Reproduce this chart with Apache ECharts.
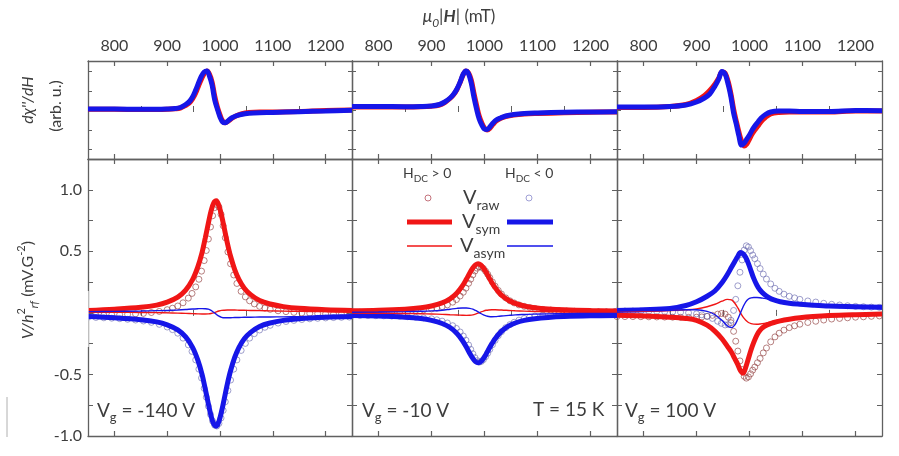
<!DOCTYPE html>
<html>
<head>
<meta charset="utf-8">
<script src="https://cdn.jsdelivr.net/npm/echarts@6/dist/echarts.min.js"></script>
<style>
  html, body { margin: 0; padding: 0; background: #fff; }
  #main { width: 899px; height: 456px; }
</style>
</head>
<body>
<div id="main"></div>
<script>
// axis ticks (mT) and labels
const majorTicks = [800, 900, 1000, 1100, 1200];
const minorTicks = [850, 950, 1050, 1150];
const yTicksTop = [-40.5, -21, -1.5, 18, 37.5];
const yLabelsBottom = [-1, -0.5, 0.5, 1];

// field grids (mT)
const fieldTop = [750, 800, 850, 880, 900, 915, 925, 935, 942, 948, 954, 960, 965, 970, 975, 980, 985, 990, 995, 1000, 1005, 1010, 1016, 1022, 1030, 1040, 1055, 1075, 1100, 1150, 1200, 1250];
const fieldLine = [750, 800, 850, 880, 900, 920, 935, 948, 958, 966, 972, 978, 983, 988, 993, 998, 1003, 1008, 1014, 1020, 1028, 1036, 1046, 1058, 1075, 1095, 1120, 1150, 1200, 1250];
const fieldRaw = [750, 765, 780, 795, 810, 825, 840, 855, 870, 885, 900, 910, 920, 930, 940, 947, 954, 960, 965, 970, 974, 978, 982, 986, 990, 994, 998, 1002, 1006, 1010, 1015, 1020, 1026, 1032, 1040, 1048, 1056, 1065, 1075, 1085, 1095, 1110, 1125, 1140, 1155, 1170, 1185, 1200, 1215, 1230, 1245];

// top row: dchi''/dH (arb. u.)  A: Vg=-140V, B: Vg=-10V, C: Vg=100V
const dchiRedA = [-0.3, -0.3, -0.5, -0.5, -0.3, 0.2, 1, 3.5, 6, 10, 16, 24, 30, 35.5, 38, 35, 27, 13, 2, -6, -12, -13.7, -12, -9.5, -7, -5, -3.5, -3, -3, -2.5, -1.5, -1];
const dchiBlueA = [0, 0, -0.3, -0.3, 0, 0.5, 1.5, 4.5, 7.5, 12, 19, 27, 33, 37, 38, 33, 24, 9, 0, -8, -13, -13.7, -11.5, -9, -7, -5.5, -4.3, -3.7, -3.5, -2.7, -2, -1.2];
const dchiRedB = [2, 2, 2, 2.2, 2.8, 4, 6.5, 10.5, 14.5, 19.5, 26.5, 34.5, 38, 36, 29, 16, 4, -7, -14, -19, -21, -19.5, -15.5, -12, -9.5, -7.5, -6, -5, -4.5, -3.8, -3.2, -3];
const dchiBlueB = [2.5, 2.5, 2.3, 2.5, 3, 4.5, 7, 11, 15, 20, 27, 35, 38, 35, 26, 12, 0, -10, -16, -20, -20.5, -18, -14, -11, -9, -7, -5.5, -4.5, -4, -3.3, -3, -2.7];
const dchiRedC = [1.5, 1.5, 2.5, 4.5, 8.5, 13.5, 18.5, 25, 31, 37, 36, 27, 15, 0, -12, -23, -32, -37, -35, -30, -25, -21, -17, -12.5, -8.5, -5, -3.5, -3, -3, -3, -2, -2];
const dchiBlueC = [2, 2, 2.5, 4, 7, 11, 15, 23, 30, 37.5, 35, 24, 12, -4, -15, -27, -36, -34, -30, -26, -21, -17, -13, -9, -5.5, -3, -2, -2, -2.5, -2.5, -1.5, -1.7];

// bottom row: V/h^2rf (mV.G^-2)
const symRedA = [0.02, 0.03, 0.045, 0.063, 0.087, 0.128, 0.185, 0.27, 0.374, 0.49, 0.606, 0.73, 0.826, 0.892, 0.91, 0.87, 0.79, 0.69, 0.566, 0.46, 0.35, 0.27, 0.2, 0.148, 0.1, 0.072, 0.051, 0.037, 0.026, 0.02];
const symBlueA = [-0.03, -0.04, -0.055, -0.073, -0.097, -0.138, -0.195, -0.28, -0.384, -0.5, -0.616, -0.74, -0.836, -0.902, -0.92, -0.88, -0.8, -0.7, -0.576, -0.47, -0.36, -0.28, -0.21, -0.158, -0.11, -0.082, -0.061, -0.047, -0.036, -0.03];
const asymRedA = [0.005, 0.005, 0.003, 0.002, 0, -0.002, -0.004, -0.006, -0.008, -0.009, -0.009, -0.008, -0.005, 0, 0.008, 0.015, 0.02, 0.022, 0.023, 0.023, 0.023, 0.022, 0.021, 0.02, 0.018, 0.016, 0.014, 0.012, 0.01, 0.009];
const asymBlueA = [0.01, 0.012, 0.015, 0.018, 0.02, 0.024, 0.028, 0.032, 0.034, 0.035, 0.034, 0.03, 0.02, 0.005, -0.012, -0.027, -0.036, -0.04, -0.04, -0.039, -0.038, -0.037, -0.036, -0.035, -0.034, -0.033, -0.032, -0.031, -0.03, -0.03];
const rawRedA = [-0.021, -0.02, -0.019, -0.017, -0.015, -0.012, -0.008, -0.004, 0.003, 0.012, 0.026, 0.038, 0.056, 0.082, 0.12, 0.158, 0.211, 0.273, 0.339, 0.425, 0.507, 0.6, 0.698, 0.789, 0.855, 0.88, 0.86, 0.8, 0.708, 0.61, 0.495, 0.399, 0.308, 0.239, 0.175, 0.13, 0.098, 0.073, 0.053, 0.039, 0.029, 0.017, 0.01, 0.004, 0, -0.003, -0.006, -0.008, -0.009, -0.011, -0.012];
const rawBlueA = [-0.035, -0.037, -0.04, -0.043, -0.047, -0.052, -0.058, -0.066, -0.077, -0.093, -0.115, -0.136, -0.165, -0.205, -0.26, -0.313, -0.382, -0.457, -0.529, -0.613, -0.685, -0.758, -0.825, -0.879, -0.912, -0.919, -0.898, -0.854, -0.792, -0.722, -0.631, -0.546, -0.457, -0.382, -0.305, -0.248, -0.205, -0.169, -0.139, -0.117, -0.101, -0.083, -0.07, -0.061, -0.054, -0.048, -0.044, -0.041, -0.038, -0.036, -0.034];

const symRedB = [0.017, 0.021, 0.03, 0.041, 0.056, 0.081, 0.114, 0.162, 0.217, 0.275, 0.322, 0.365, 0.39, 0.4, 0.39, 0.365, 0.33, 0.29, 0.245, 0.205, 0.162, 0.13, 0.101, 0.077, 0.056, 0.042, 0.032, 0.025, 0.019, 0.016];
const symBlueB = [-0.022, -0.026, -0.035, -0.046, -0.061, -0.086, -0.119, -0.167, -0.222, -0.28, -0.327, -0.37, -0.396, -0.405, -0.396, -0.37, -0.335, -0.295, -0.25, -0.21, -0.167, -0.135, -0.106, -0.082, -0.061, -0.047, -0.037, -0.03, -0.024, -0.021];
const asymRedB = [-0.002, -0.003, -0.005, -0.007, -0.009, -0.012, -0.015, -0.017, -0.019, -0.02, -0.019, -0.016, -0.01, -0.002, 0.007, 0.015, 0.021, 0.024, 0.025, 0.025, 0.024, 0.022, 0.02, 0.017, 0.014, 0.011, 0.009, 0.007, 0.005, 0.004];
const asymBlueB = [0.005, 0.007, 0.01, 0.013, 0.016, 0.022, 0.03, 0.037, 0.04, 0.04, 0.037, 0.03, 0.02, 0.008, -0.005, -0.016, -0.024, -0.029, -0.031, -0.03, -0.027, -0.024, -0.02, -0.016, -0.013, -0.01, -0.008, -0.006, -0.005, -0.004];
const rawRedB = [0.005, 0.006, 0.006, 0.008, 0.009, 0.01, 0.012, 0.015, 0.019, 0.024, 0.032, 0.04, 0.051, 0.065, 0.087, 0.108, 0.137, 0.168, 0.201, 0.24, 0.274, 0.309, 0.34, 0.363, 0.375, 0.372, 0.36, 0.339, 0.314, 0.286, 0.251, 0.217, 0.182, 0.153, 0.122, 0.098, 0.081, 0.065, 0.053, 0.044, 0.036, 0.028, 0.023, 0.019, 0.015, 0.013, 0.011, 0.01, 0.008, 0.007, 0.007];
const rawBlueB = [-0.02, -0.021, -0.022, -0.023, -0.024, -0.026, -0.028, -0.031, -0.035, -0.04, -0.048, -0.056, -0.067, -0.082, -0.104, -0.126, -0.155, -0.188, -0.222, -0.261, -0.296, -0.332, -0.364, -0.388, -0.4, -0.394, -0.379, -0.356, -0.328, -0.297, -0.259, -0.223, -0.185, -0.153, -0.12, -0.095, -0.076, -0.059, -0.045, -0.035, -0.026, -0.017, -0.01, -0.005, -0.001, 0.002, 0.004, 0.006, 0.007, 0.008, 0.009];

const symRedC = [-0.02, -0.025, -0.035, -0.045, -0.06, -0.1, -0.15, -0.21, -0.27, -0.32, -0.37, -0.42, -0.47, -0.49, -0.44, -0.37, -0.3, -0.24, -0.18, -0.14, -0.11, -0.093, -0.078, -0.065, -0.052, -0.04, -0.03, -0.022, -0.015, -0.01];
const symBlueC = [0.02, 0.025, 0.035, 0.06, 0.09, 0.135, 0.18, 0.245, 0.31, 0.37, 0.415, 0.46, 0.49, 0.48, 0.45, 0.4, 0.34, 0.28, 0.225, 0.185, 0.15, 0.125, 0.105, 0.09, 0.078, 0.07, 0.062, 0.055, 0.05, 0.045];
const asymRedC = [0.01, 0.012, 0.018, 0.025, 0.033, 0.05, 0.07, 0.095, 0.11, 0.105, 0.08, 0.04, 0, -0.035, -0.06, -0.078, -0.087, -0.091, -0.092, -0.09, -0.085, -0.078, -0.068, -0.058, -0.046, -0.035, -0.026, -0.018, -0.01, -0.005];
const asymBlueC = [0.015, 0.018, 0.022, 0.025, 0.025, 0.012, -0.015, -0.06, -0.105, -0.12, -0.1, -0.05, 0, 0.05, 0.09, 0.113, 0.122, 0.125, 0.125, 0.123, 0.118, 0.113, 0.105, 0.096, 0.085, 0.073, 0.062, 0.053, 0.042, 0.033];
const rawRedC = [-0.03, -0.03, -0.03, -0.031, -0.032, -0.033, -0.034, -0.035, -0.036, -0.036, -0.035, -0.033, -0.028, -0.02, -0.01, -0.005, -0.01, -0.035, -0.08, -0.15, -0.23, -0.31, -0.39, -0.46, -0.515, -0.53, -0.52, -0.495, -0.465, -0.44, -0.405, -0.37, -0.325, -0.285, -0.235, -0.195, -0.165, -0.14, -0.12, -0.105, -0.092, -0.078, -0.068, -0.058, -0.05, -0.045, -0.04, -0.035, -0.032, -0.028, -0.025];
const rawBlueC = [0.015, 0.015, 0.015, 0.014, 0.013, 0.012, 0.01, 0.008, 0.005, 0, -0.008, -0.016, -0.028, -0.045, -0.068, -0.085, -0.098, -0.095, -0.06, 0.02, 0.11, 0.22, 0.33, 0.43, 0.51, 0.545, 0.535, 0.505, 0.47, 0.44, 0.4, 0.36, 0.315, 0.275, 0.235, 0.2, 0.175, 0.152, 0.135, 0.122, 0.11, 0.097, 0.088, 0.078, 0.07, 0.064, 0.058, 0.053, 0.05, 0.047, 0.045];

const dchiRed = [dchiRedA, dchiRedB, dchiRedC];
const dchiBlue = [dchiBlueA, dchiBlueB, dchiBlueC];
const symRed = [symRedA, symRedB, symRedC];
const symBlue = [symBlueA, symBlueB, symBlueC];
const asymRed = [asymRedA, asymRedB, asymRedC];
const asymBlue = [asymBlueA, asymBlueB, asymBlueC];
const rawRed = [rawRedA, rawRedB, rawRedC];
const rawBlue = [rawBlueA, rawBlueB, rawBlueC];

const FONT = 'Lato, "Open Sans", sans-serif';
const TXT = '#3d3d3d';
const AX = '#606060';
const RED = '#f01616';
const BLUE = '#1616e8';
const RAW_RED = 'rgba(150,70,70,0.85)';
const RAW_BLUE = 'rgba(105,105,175,0.8)';

const grids = [
  {left: 88, top: 61, width: 264, height: 98},
  {left: 352, top: 61, width: 265, height: 98},
  {left: 617, top: 61, width: 265, height: 98},
  {left: 88, top: 159, width: 264, height: 277},
  {left: 352, top: 159, width: 265, height: 277},
  {left: 617, top: 159, width: 265, height: 277}
].map(g => Object.assign(g, {containLabel: false, outerBoundsMode: 'none'}));

let xAxis = [];
let yAxis = [];
grids.forEach((g, i) => {
  let topRow = i < 3;
  let xBase = {
    type: 'value', gridIndex: i, min: 750, max: 1250, interval: 50,
    splitLine: {show: false},
    axisLine: {show: true, onZero: false, lineStyle: {color: AX, width: 1.3}},
    axisLabel: {show: false}
  };
  let major = {inside: true, length: 5, customValues: majorTicks, lineStyle: {color: AX, width: 1.2}};
  let minor = {inside: true, length: 3, customValues: minorTicks, lineStyle: {color: AX, width: 1}};
  xAxis.push(Object.assign({}, xBase, {position: 'bottom', axisTick: major}));
  xAxis.push(Object.assign({}, xBase, {
    position: 'top', axisTick: major,
    axisLabel: topRow
      ? {show: true, customValues: majorTicks, formatter: v => String(v), color: TXT, fontSize: 16, fontFamily: FONT, margin: 7}
      : {show: false}
  }));
  xAxis.push(Object.assign({}, xBase, {position: 'bottom', axisLine: {show: false}, axisTick: minor}));
  xAxis.push(Object.assign({}, xBase, {position: 'top', axisLine: {show: false}, axisTick: minor}));

  let yBase = topRow
    ? {min: -50, max: 48, axisTick: {inside: true, length: 4, customValues: yTicksTop, lineStyle: {color: AX}}}
    : {min: -1, max: 1.25, interval: 0.25, axisTick: {inside: true, length: 5, lineStyle: {color: AX}}};
  ['left', 'right'].forEach(pos => {
    let showLab = !topRow && i === 3 && pos === 'left';
    yAxis.push(Object.assign({
      type: 'value', gridIndex: i, position: pos,
      splitLine: {show: false},
      axisLine: {show: true, onZero: false, lineStyle: {color: AX, width: 1.3}},
      axisLabel: showLab
        ? {show: true, customValues: yLabelsBottom, formatter: v => v.toFixed(1), color: TXT, fontSize: 16, fontFamily: FONT, margin: 6}
        : {show: false}
    }, yBase));
  });
});

function pts(xs, ys) {
  return xs.map((x, k) => [x, ys[k]]);
}
function lineSeries(g, data, color, w) {
  return {
    type: 'line', xAxisIndex: 4 * g, yAxisIndex: 2 * g, data: data,
    showSymbol: false, smooth: 0.35, silent: true,
    lineStyle: {color: color, width: w}, itemStyle: {color: color}
  };
}
function rawSeries(g, data, color) {
  return {
    type: 'scatter', xAxisIndex: 4 * g, yAxisIndex: 2 * g, data: data,
    symbol: 'circle', symbolSize: 6, silent: true,
    itemStyle: {color: 'rgba(0,0,0,0)', borderColor: color, borderWidth: 1}
  };
}

let series = [];
for (let p = 0; p < 3; p++) {
  let gb = p + 3;
  series.push(lineSeries(p, pts(fieldTop, dchiRed[p]), RED, 5));
  series.push(lineSeries(p, pts(fieldTop, dchiBlue[p]), BLUE, 5));
  series.push(rawSeries(gb, pts(fieldRaw, rawRed[p]), RAW_RED));
  series.push(rawSeries(gb, pts(fieldRaw, rawBlue[p]), RAW_BLUE));
  series.push(lineSeries(gb, pts(fieldLine, symRed[p]), RED, 5));
  series.push(lineSeries(gb, pts(fieldLine, symBlue[p]), BLUE, 5));
  series.push(lineSeries(gb, pts(fieldLine, asymRed[p]), RED, 1.4));
  series.push(lineSeries(gb, pts(fieldLine, asymBlue[p]), BLUE, 1.4));
}

// rich text styles
function richSet(big, small) {
  return {
    n: {fontSize: big, lineHeight: big + 8, fontFamily: FONT, fill: TXT},
    i: {fontSize: big, lineHeight: big + 8, fontFamily: FONT, fontStyle: 'italic', fill: TXT},
    bi: {fontSize: big, lineHeight: big + 8, fontFamily: FONT, fontStyle: 'italic', fontWeight: 'bold', fill: TXT},
    s: {fontSize: small, lineHeight: small, verticalAlign: 'bottom', fontFamily: FONT, fill: TXT},
    is: {fontSize: small, lineHeight: small, verticalAlign: 'bottom', fontFamily: FONT, fontStyle: 'italic', fill: TXT},
    sup: {fontSize: small, lineHeight: small, verticalAlign: 'top', fontFamily: FONT, fill: TXT}
  };
}
function label(x, y, text, big, small, align, rot) {
  return {
    type: 'text', x: x, y: y, rotation: rot || 0, z: 50,
    style: {text: text, rich: richSet(big, small), align: align || 'left', verticalAlign: 'middle'}
  };
}
function seg(x1, x2, y, color, w) {
  return {type: 'line', z: 50, shape: {x1: x1, y1: y, x2: x2, y2: y}, style: {stroke: color, lineWidth: w}};
}
function ring(x, y, color) {
  return {type: 'circle', z: 50, shape: {cx: x, cy: y, r: 3}, style: {fill: 'none', stroke: color, lineWidth: 1}};
}

let graphic = [
  label(459, 17, '{i|μ}{is|0}{i||}{bi|H}{i||}{n| (mT)}', 17, 12, 'center'),
  label(28, 100, "{i|dχ''/dH}", 16, 11, 'center', Math.PI / 2),
  label(56, 106, '{n|(arb. u.)}', 16, 11, 'center', Math.PI / 2),
  label(28, 290, '{i|V/h}{sup|2}{is|rf}{n| (mV.G}{sup|-2}{n|)}', 16, 11, 'center', Math.PI / 2),

  label(97, 411, '{n|V}{s|g}{n| = -140 V}', 19, 13),
  label(362, 411, '{n|V}{s|g}{n| = -10 V}', 19, 13),
  label(533, 410, '{n|T = 15 K}', 19, 13),
  label(625, 411, '{n|V}{s|g}{n| = 100 V}', 19, 13),

  // legend
  label(403, 173, '{n|H}{s|DC}{n| > 0}', 14, 10),
  label(505, 173, '{n|H}{s|DC}{n| < 0}', 14, 10),
  ring(428, 198, 'rgba(190,100,110,0.9)'),
  ring(529, 198, 'rgba(150,150,210,0.9)'),
  label(463, 198, '{n|V}{s|raw}', 20, 14),
  seg(407, 452, 222, RED, 5),
  seg(507, 553, 222, BLUE, 5),
  label(462, 222, '{n|V}{s|sym}', 20, 14),
  seg(407, 452, 246, RED, 1.5),
  seg(507, 553, 246, BLUE, 1.5),
  label(460, 246, '{n|V}{s|asym}', 20, 14),

  // break in the left frame and stray mark seen in the figure
  {type: 'rect', z: 60, shape: {x: 84, y: 291, width: 4.6, height: 56}, style: {fill: '#fff'}},
  {type: 'line', z: 60, shape: {x1: 7, y1: 397, x2: 7, y2: 437}, style: {stroke: '#b0b0b0', lineWidth: 1}}
];

let myChart = echarts.init(document.getElementById('main'));
myChart.setOption({
  animation: false,
  backgroundColor: '#fff',
  grid: grids,
  xAxis: xAxis,
  yAxis: yAxis,
  series: series,
  graphic: graphic
});
</script>
</body>
</html>
